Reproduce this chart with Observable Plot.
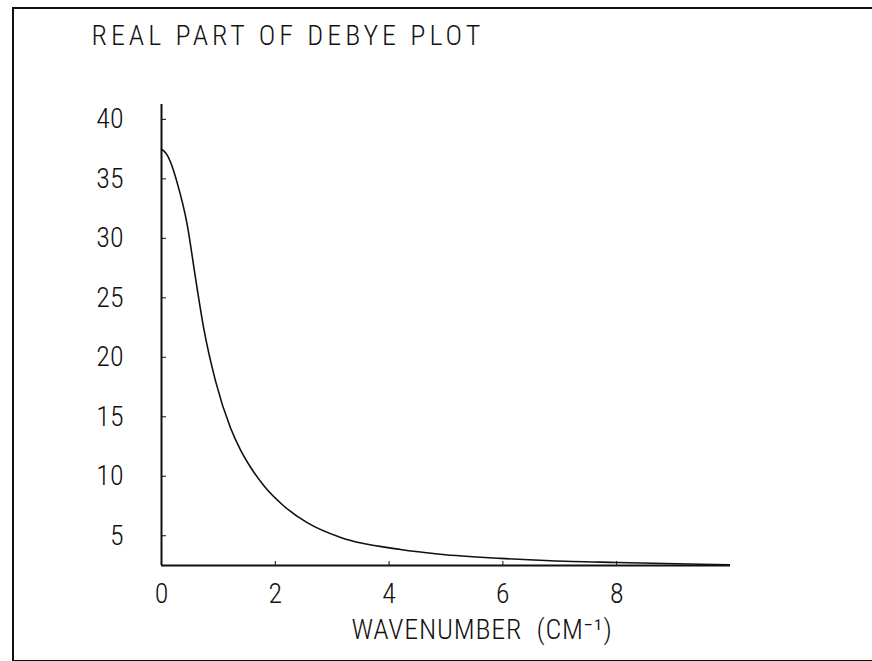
<!DOCTYPE html>
<html>
<head>
<meta charset="utf-8">
<script src="https://cdn.jsdelivr.net/npm/d3@7"></script>
<script src="https://cdn.jsdelivr.net/npm/@observablehq/plot@0.6"></script>
<style>
  html, body { margin: 0; padding: 0; background: #fff; }
  #wrap { position: relative; width: 872px; height: 661px; overflow: hidden; }
  #border { position: absolute; left: 12px; top: 7px; width: 866px; height: 651px; border: 2px solid #111; box-sizing: content-box; pointer-events: none; }
  #chart { position: absolute; left: 0; top: 0; }
</style>
</head>
<body>
<div id="wrap"><div id="chart"></div><div id="border"></div></div>
<script>
const title = "REAL PART OF DEBYE PLOT";
const xLabel = "WAVENUMBER  (CM\u207B\u00B9)";
const xTicks = [0, 2, 4, 6, 8];
const yTicks = [5, 10, 15, 20, 25, 30, 35, 40];
const wavenumber = [0, 0.04, 0.10, 0.16, 0.28, 0.45, 0.60, 0.74, 0.95, 1.21, 1.39, 1.56, 1.80, 2.15, 2.56, 3.15, 4.20, 4.90, 5.96, 6.84, 8.01, 9.47, 9.98];
const realPart   = [37.5, 37.35, 37.0, 36.4, 34.6, 31.2, 26.6, 22.5, 18.0, 14.1, 12.2, 10.8, 9.2, 7.5, 6.1, 4.85, 3.85, 3.45, 3.1, 2.9, 2.75, 2.6, 2.55];

const data = wavenumber.map((x, i) => ({x, y: realPart[i]}));
const font = "'Roboto Condensed', 'DejaVu Sans Condensed', 'DejaVu Sans', sans-serif";
const yMin = 2.5, yMax = 41.25;

const chart = Plot.plot({
  width: 872,
  height: 661,
  marginLeft: 161,
  marginRight: 142,
  marginTop: 104,
  marginBottom: 96,
  style: {fontFamily: font, fontSize: "28px", fontWeight: 300, color: "#111", background: "transparent"},
  x: {domain: [0, 10]},
  y: {domain: [yMin, yMax]},
  marks: [
    Plot.axisY(yTicks, {tickSize: -5, tickPadding: 43, fontSize: 28, label: null}),
    Plot.axisX(xTicks, {tickSize: -4, tickPadding: 22, fontSize: 28, label: null}),
    Plot.ruleX([0], {y1: yMin, y2: yMax, stroke: "#111", strokeWidth: 2}),
    Plot.ruleY([yMin], {x1: 0, x2: 10, stroke: "#111", strokeWidth: 2}),
    Plot.line(data, {x: "x", y: "y", stroke: "#111", strokeWidth: 1.6, curve: "monotone-x"}),
    Plot.text([title], {frameAnchor: "top-left", dx: -70, dy: -79, textAnchor: "start", fontSize: 28, text: d => d}),
    Plot.text([xLabel], {frameAnchor: "bottom", dx: 36, dy: 73, fontSize: 28, text: d => d})
  ]
});
d3.select(chart).selectAll("text")
  .filter(function () { return this.textContent === title; })
  .style("letter-spacing", "4px");
d3.select(chart).selectAll("text")
  .filter(function () { return this.textContent === xLabel; })
  .style("letter-spacing", "0.8px");
document.getElementById("chart").appendChild(chart);
</script>
</body>
</html>
